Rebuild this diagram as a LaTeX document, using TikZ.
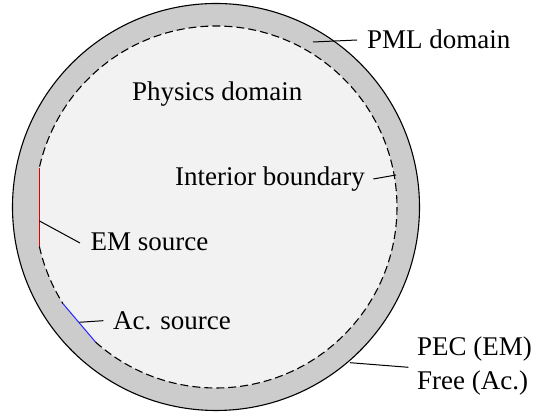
\documentclass[tikz,border=0pt]{standalone}
\usepackage{fontspec}
\setmainfont{Liberation Serif}
\usetikzlibrary{calc}
\begin{document}
\begin{tikzpicture}[x=1pt,y=1pt,
  lbl/.style={anchor=base west,inner sep=0pt,font=\fontsize{27}{32}\selectfont},
  leader/.style={draw=black,line width=1pt},
  bnd/.style={line width=1.1pt,dash pattern=on 8pt off 4pt}]
\useasboundingbox (0,0) rectangle (544,419);
\coordinate (c) at (216,212);
% outer PML disc
\fill[gray!40] (c) circle (203.5);
\draw[line width=1.1pt] (c) circle (203.5);
% physics domain with source chords
\coordinate (e1) at ($(c)+(167.45:181)$);
\coordinate (e2) at ($(c)+(192.55:181)$);
\coordinate (a1) at ($(c)+(212.3:181)$);
\coordinate (a2) at ($(c)+(228.3:181)$);
\fill[gray!10] (e1) -- (e2) arc[start angle=192.55,end angle=212.3,radius=181] -- (a2)
  arc[start angle=228.3,end angle=527.45,radius=181] -- cycle;
\draw[bnd] (e2) arc[start angle=192.55,end angle=212.3,radius=181];
\draw[bnd] (a2) arc[start angle=228.3,end angle=527.45,radius=181];
\draw[line width=1pt,red!85!black] (e1) -- (e2);
\draw[line width=1pt,blue!85] (a1) -- (a2);
% labels
\node[lbl] (pml) at (367,370.7) {PML domain};
\node[lbl] (phys) at (132,318.3) {Physics domain};
\node[lbl] (intb) at (175,233) {Interior boundary};
\node[lbl] (ems) at (90.5,168) {EM source};
\node[lbl] (acs) at (113,89) {Ac. source};
\node[lbl] (pec) at (417,63) {PEC (EM)};
\node[lbl] (free) at (417,29) {Free (Ac.)};
% leader coordinates
\coordinate (pmlA) at (313,377);  \coordinate (pmlB) at (357,379);
\coordinate (intA) at (373.3,240); \coordinate (intB) at (396,244);
\coordinate (emA) at (39.5,198);  \coordinate (emB) at (80,176);
\coordinate (acA) at (79.3,96.7); \coordinate (acB) at (103.3,98.3);
\coordinate (pecA) at (350,56.3); \coordinate (pecB) at (408.3,51.7);
\draw[leader] (pmlA) -- (pmlB);
\draw[leader] (intA) -- (intB);
\draw[leader] (emA) -- (emB);
\draw[leader] (acA) -- (acB);
\draw[leader] (pecA) -- (pecB);
\end{tikzpicture}
\end{document}
